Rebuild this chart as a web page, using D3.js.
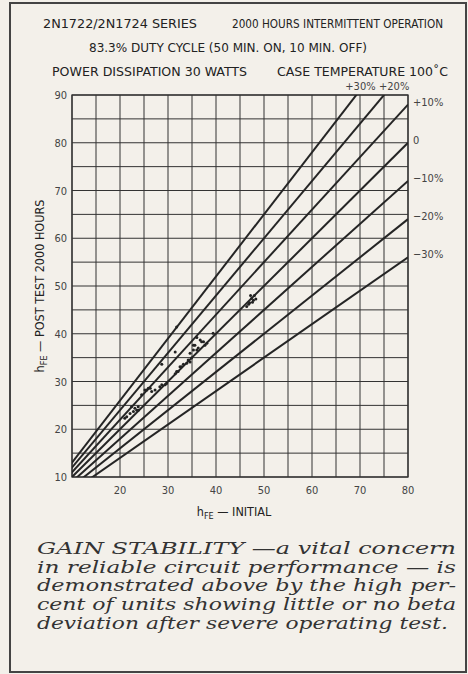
<!DOCTYPE html>
<html>
<head>
<meta charset="utf-8">
<script src="https://cdn.jsdelivr.net/npm/d3@7"></script>
<style>
  body { margin: 0; background: #f3f0ea; }
  svg { display: block; }
  .hdr { font-family: "DejaVu Sans Condensed", "Liberation Sans Narrow", sans-serif; font-size: 12.5px; fill: #222; }
  .tick { font-family: "DejaVu Sans Condensed", "Liberation Sans Narrow", sans-serif; font-size: 11px; fill: #444; }
  .cap { font-family: "DejaVu Serif", "Liberation Serif", serif; font-style: italic; font-size: 17px; fill: #333; }
</style>
</head>
<body>
<script>
var xTicks = [20, 30, 40, 50, 60, 70, 80],
    yTicks = [10, 20, 30, 40, 50, 60, 70, 80, 90];
// percent change lines, post = initial * (1 + p/100)
var pctLines = [30, 20, 10, 0, -10, -20, -30];
var pctLabels = ['+30%', '+20%', '+10%', '0', '\u221210%', '\u221220%', '\u221230%'];
// units tested: initial hFE, post-test hFE
var initial = [21.0, 21.4, 22.1, 22.4, 22.8, 23.1, 23.5, 23.8, 23.8, 24.5, 25.2, 25.6, 25.9, 26.3, 26.6,
               27.3, 28.3, 28.7, 28.7, 29.4, 29.7, 31.5, 31.5, 31.8, 31.8, 32.1, 32.5, 32.8, 33.2, 33.9,
               34.2, 34.6, 34.9, 34.6, 35.3, 35.3, 35.6, 36.0, 36.0, 36.3, 36.7, 37.0, 37.4, 37.7, 38.1,
               39.4, 46.4, 46.8, 47.0, 47.2, 47.4, 47.6, 47.8, 48.0, 48.3];
var postTest = [22.3, 22.6, 23.3, 24.7, 23.7, 24.4, 24.0, 24.0, 24.7, 27.2, 28.2, 28.2, 28.6, 28.6, 27.9,
                28.2, 28.9, 29.3, 33.6, 29.3, 29.6, 31.6, 36.2, 32.1, 41.4, 32.1, 33.1, 33.1, 33.6, 33.8,
                34.5, 34.1, 34.9, 35.9, 36.6, 37.6, 37.6, 39.2, 36.6, 37.0, 38.7, 38.3, 38.3, 37.6, 38.0,
                40.1, 45.7, 46.2, 46.5, 48.0, 47.4, 46.6, 47.0, 48.0, 47.3];
var headerLines = [
  [['2N1722/2N1724 SERIES', 43, 154], ['2000 HOURS INTERMITTENT OPERATION', 232, 211]],
  [['83.3% DUTY CYCLE (50 MIN. ON, 10 MIN. OFF)', 89, 278]],
  [['POWER DISSIPATION 30 WATTS', 52, 195], ['CASE TEMPERATURE 100\u02daC', 277, 171]]
];
var caption = [
  'GAIN STABILITY \u2014a vital concern',
  'in reliable circuit performance \u2014 is',
  'demonstrated above by the high per-',
  'cent of units showing little or no beta',
  'deviation after severe operating test.'
];

var W = 468, H = 674;
var svg = d3.select('body').append('svg').attr('width', W).attr('height', H);
var ink = '#333';

// frame
svg.append('rect')
  .attr('x', 10).attr('y', 3).attr('width', 456).attr('height', 669)
  .attr('fill', 'none').attr('stroke', '#444').attr('stroke-width', 2);

// header
headerLines.forEach(function(line, i) {
  line.forEach(function(part) {
    svg.append('text').attr('class', 'hdr')
      .attr('x', part[1]).attr('y', 28 + i * 24)
      .attr('textLength', part[2]).attr('lengthAdjust', 'spacingAndGlyphs')
      .text(part[0]);
  });
});

var x = d3.scaleLinear().domain([10, 80]).range([72, 408]);
var y = d3.scaleLinear().domain([10, 90]).range([477, 95]);

var plot = svg.append('g');
plot.append('clipPath').attr('id', 'clip')
  .append('rect').attr('x', x(10)).attr('y', y(90))
  .attr('width', x(80) - x(10)).attr('height', y(10) - y(90));

// grid
plot.selectAll('.vg').data(d3.range(10, 81, 5)).join('line')
  .attr('x1', d => x(d)).attr('x2', d => x(d))
  .attr('y1', y(10)).attr('y2', y(90))
  .attr('stroke', ink).attr('stroke-width', 1);
plot.selectAll('.hg').data(d3.range(10, 91, 5)).join('line')
  .attr('y1', d => y(d)).attr('y2', d => y(d))
  .attr('x1', x(10)).attr('x2', x(80))
  .attr('stroke', ink).attr('stroke-width', 1);
plot.append('rect')
  .attr('x', x(10)).attr('y', y(90)).attr('width', x(80) - x(10)).attr('height', y(10) - y(90))
  .attr('fill', 'none').attr('stroke', ink).attr('stroke-width', 1.3);

// percent lines
plot.append('g').attr('clip-path', 'url(#clip)')
  .selectAll('line').data(pctLines).join('line')
  .attr('x1', x(0)).attr('y1', y(0))
  .attr('x2', x(80)).attr('y2', d => y(80 * (1 + d / 100)))
  .attr('stroke', '#252525').attr('stroke-width', 2);

// percent labels
pctLines.forEach(function(p, i) {
  var yEnd = 80 * (1 + p / 100);
  var t = svg.append('text').attr('class', 'tick').text(pctLabels[i]);
  if (yEnd > 90) {
    t.attr('x', x(90 / (1 + p / 100)) - 11 + i * 6).attr('y', y(90) - 5)
      .attr('font-size', 10);
  } else {
    t.attr('x', x(80) + 5).attr('y', y(yEnd) + 1);
  }
});

// points
plot.selectAll('circle').data(initial).join('circle')
  .attr('cx', d => x(d)).attr('cy', (d, i) => y(postTest[i]))
  .attr('r', 1.5).attr('fill', '#222');

// tick labels
svg.selectAll('.xt').data(xTicks).join('text').attr('class', 'tick')
  .attr('x', d => x(d)).attr('y', 494).attr('text-anchor', 'middle').text(d => d);
svg.selectAll('.yt').data(yTicks).join('text').attr('class', 'tick')
  .attr('x', 67).attr('y', d => y(d) + 4).attr('text-anchor', 'end').text(d => d);

// axis titles
var xt = svg.append('text').attr('class', 'hdr').attr('x', 234).attr('y', 516).attr('text-anchor', 'middle');
xt.append('tspan').text('h');
xt.append('tspan').attr('font-size', 9).attr('dy', 3).text('FE');
xt.append('tspan').attr('dy', -3).text(' \u2014 INITIAL');

var yt = svg.append('text').attr('class', 'hdr')
  .attr('transform', 'translate(44,' + y(50) + ') rotate(-90)')
  .attr('text-anchor', 'middle');
yt.append('tspan').text('h');
yt.append('tspan').attr('font-size', 9).attr('dy', 3).text('FE');
yt.append('tspan').attr('dy', -3).text(' \u2014 POST TEST 2000 HOURS');

// caption
caption.forEach(function(line, i) {
  svg.append('text').attr('class', 'cap')
    .attr('x', 37).attr('y', 554 + i * 18.7)
    .attr('textLength', i < 4 ? 419 : 411).attr('lengthAdjust', 'spacingAndGlyphs')
    .text(line);
});
</script>
</body>
</html>
